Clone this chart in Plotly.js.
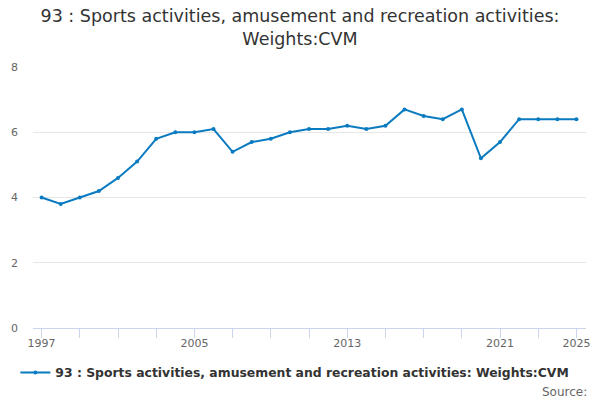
<!DOCTYPE html>
<html>
<head>
<meta charset="utf-8">
<script src="https://cdn.plot.ly/plotly-3.0.1.min.js"></script>
<style>html,body{margin:0;padding:0;background:#fff}#chart{width:600px;height:400px}</style>
</head>
<body>
<div id="chart"></div>
<script>
const years = [1997,1998,1999,2000,2001,2002,2003,2004,2005,2006,2007,2008,2009,2010,2011,2012,2013,2014,2015,2016,2017,2018,2019,2020,2021,2022,2023,2024,2025];
const values = [4.0,3.8,4.0,4.2,4.6,5.1,5.8,6.0,6.0,6.1,5.4,5.7,5.8,6.0,6.1,6.1,6.2,6.1,6.2,6.7,6.5,6.4,6.7,5.2,5.7,6.4,6.4,6.4,6.4];
const xTickLabels = [1997,2005,2013,2021,2025];
const yTicks = [0,2,4,6,8];
const seriesName = "93 : Sports activities, amusement and recreation activities: Weights:CVM";
const titleText = "93 : Sports activities, amusement and recreation activities:<br>Weights:CVM";

const font = "DejaVu Sans, sans-serif";
Plotly.newPlot("chart", [{
  x: years, y: values, type: "scatter", mode: "lines+markers",
  name: seriesName,
  line: {color: "#0b7bc1", width: 2},
  marker: {color: "#0b7bc1", size: 4}
}], {
  width: 600, height: 400,
  margin: {l: 33, r: 14, t: 67, b: 72},
  paper_bgcolor: "#fff", plot_bgcolor: "#fff",
  font: {family: font, color: "#666"},
  title: {text: titleText, font: {family: font, size: 17.5, color: "#333"}, x: 0.5, xanchor: "center", xref: "container", yref: "container", y: 0.945, yanchor: "middle"},
  xaxis: {
    range: [1996.55, 2025.5],
    tickmode: "array", tickvals: xTickLabels, ticktext: xTickLabels.map(String),
    ticks: "outside", ticklen: 9, tickcolor: "#ccd6eb", tickwidth: 1,
    minor: {tickmode: "linear", tick0: 1997, dtick: 2, ticks: "outside", ticklen: 9, tickcolor: "#ccd6eb", tickwidth: 1, showgrid: false},
    showgrid: false, zeroline: false,
    showline: true, linecolor: "#ccd6eb", linewidth: 1,
    tickfont: {family: font, size: 11, color: "#666"},
    ticklabelstandoff: -4
  },
  yaxis: {
    range: [0, 8], tickmode: "array", tickvals: yTicks,
    showgrid: true, gridcolor: "#e6e6e6", zeroline: false, showline: false,
    ticks: "", tickfont: {family: font, size: 11, color: "#666"}, ticklabelstandoff: 14
  },
  showlegend: true,
  legend: {orientation: "h", x: 0.4735, xanchor: "center", y: -0.172, yanchor: "middle", bgcolor: "rgba(0,0,0,0)",
    font: {family: font, size: 12.4, color: "#333", weight: "bold"}, itemwidth: 30},
  annotations: [{text: "Source:", xref: "paper", yref: "paper", x: 1.0054, y: -0.245, xanchor: "right", yanchor: "middle", showarrow: false, font: {family: font, size: 12, color: "#666"}}]
}, {displayModeBar: false});
</script>
</body>
</html>
